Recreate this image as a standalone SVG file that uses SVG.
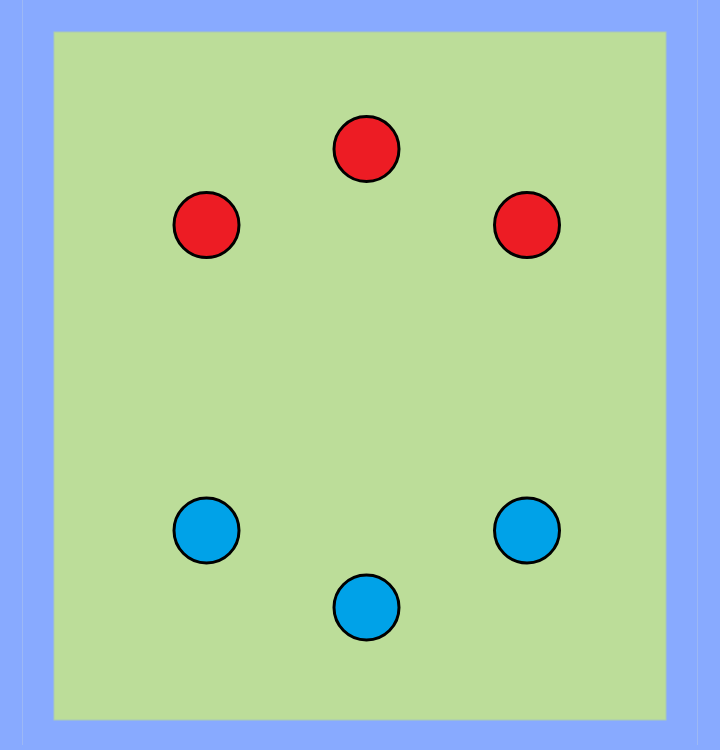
<svg xmlns="http://www.w3.org/2000/svg" width="720" height="750" viewBox="0 0 720 750">
<style>
.red{fill:#ed1c24;stroke:#000;stroke-width:3}
.blue{fill:#00a2e8;stroke:#000;stroke-width:3}
</style>
<rect x="0" y="0" width="720" height="750" fill="#88aaff"/>
<line x1="22.5" y1="0" x2="22.5" y2="745" stroke="#9db8f4" stroke-width="1"/>
<line x1="697.5" y1="0" x2="697.5" y2="745" stroke="#9db8f4" stroke-width="1"/>
<rect x="54" y="32" width="612" height="688" fill="#bcdd99" stroke="#a9c9b6" stroke-width="1"/>
<g id="r1"><circle class="red" cx="366.5" cy="149" r="32.5"/></g>
<g id="r2"><circle class="red" cx="206.5" cy="225" r="32.5"/></g>
<g id="r3"><circle class="red" cx="527" cy="225" r="32.5"/></g>
<g id="b1"><circle class="blue" cx="206.5" cy="530.5" r="32.5"/></g>
<g id="b2"><circle class="blue" cx="527" cy="530.5" r="32.5"/></g>
<g id="b3"><circle class="blue" cx="366.5" cy="607.5" r="32.5"/></g>
</svg>
